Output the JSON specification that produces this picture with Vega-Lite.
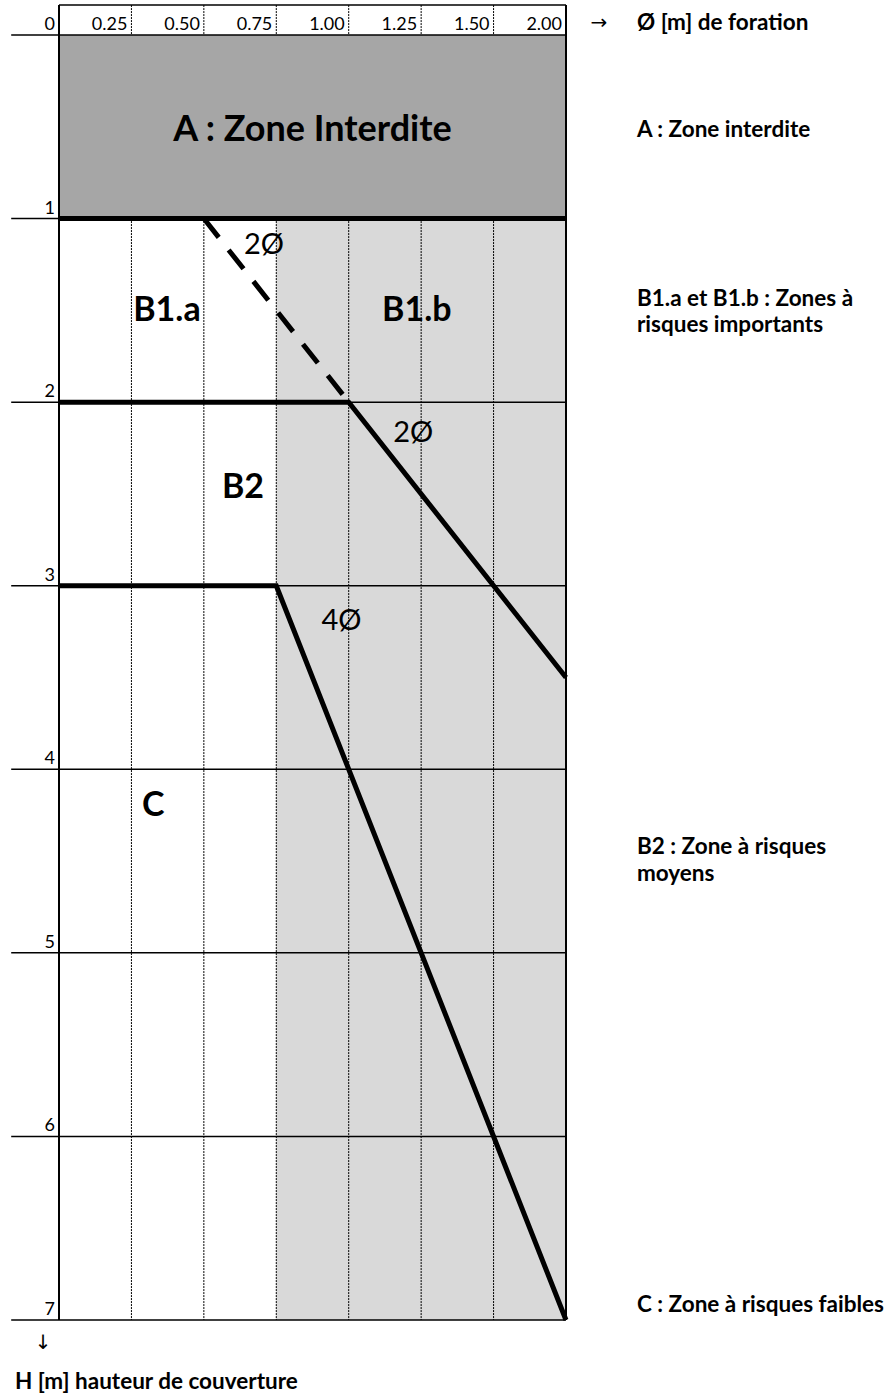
{
  "$schema": "https://vega.github.io/schema/vega-lite/v6.json",
  "width": 507,
  "height": 1285,
  "autosize": {"type": "none"},
  "padding": {"left": 59, "top": 35, "right": 322, "bottom": 75},
  "background": "white",
  "config": {"view": {"stroke": null}, "font": "Lato"},
  "datasets": {
    "zones": [
      {"zone": "grey", "i": 3, "i2": 7, "h": 1, "h2": 7},
      {"zone": "A", "i": 0, "i2": 7, "h": 0, "h2": 1}
    ],
    "grid": [
      {"kind": "dotted", "i": 1, "i2": 1, "h": -0.163, "h2": 7},
      {"kind": "dotted", "i": 2, "i2": 2, "h": -0.163, "h2": 7},
      {"kind": "dotted", "i": 3, "i2": 3, "h": -0.163, "h2": 7},
      {"kind": "dotted", "i": 4, "i2": 4, "h": -0.163, "h2": 7},
      {"kind": "dotted", "i": 5, "i2": 5, "h": -0.163, "h2": 7},
      {"kind": "dotted", "i": 6, "i2": 6, "h": -0.163, "h2": 7},
      {"kind": "thin", "i": 0, "i2": 7, "h": -0.163, "h2": -0.163},
      {"kind": "thin", "i": -0.66, "i2": 7, "h": 0, "h2": 0},
      {"kind": "thin", "i": -0.66, "i2": 7, "h": 1, "h2": 1},
      {"kind": "thin", "i": -0.66, "i2": 7, "h": 2, "h2": 2},
      {"kind": "thin", "i": -0.66, "i2": 7, "h": 3, "h2": 3},
      {"kind": "thin", "i": -0.66, "i2": 7, "h": 4, "h2": 4},
      {"kind": "thin", "i": -0.66, "i2": 7, "h": 5, "h2": 5},
      {"kind": "thin", "i": -0.66, "i2": 7, "h": 6, "h2": 6},
      {"kind": "thin", "i": -0.66, "i2": 7, "h": 7, "h2": 7},
      {"kind": "frame", "i": 0, "i2": 0, "h": -0.163, "h2": 7},
      {"kind": "frame", "i": 7, "i2": 7, "h": -0.163, "h2": 7}
    ],
    "curves": [
      {"seg": "H1", "ord": 1, "i": 0, "h": 1},
      {"seg": "H1", "ord": 2, "i": 7, "h": 1},
      {"seg": "H2", "ord": 1, "i": 0, "h": 2},
      {"seg": "H2", "ord": 2, "i": 4, "h": 2},
      {"seg": "H2", "ord": 3, "i": 7, "h": 3.5},
      {"seg": "H3", "ord": 1, "i": 0, "h": 3},
      {"seg": "H3", "ord": 2, "i": 3, "h": 3},
      {"seg": "H3", "ord": 3, "i": 7, "h": 7},
      {"seg": "D", "ord": 1, "i": 2, "h": 1},
      {"seg": "D", "ord": 2, "i": 4, "h": 2}
    ],
    "labels": [
      {"kind": "tick", "text": "0", "i": 0, "h": 0},
      {"kind": "tick", "text": "0.25", "i": 1, "h": 0},
      {"kind": "tick", "text": "0.50", "i": 2, "h": 0},
      {"kind": "tick", "text": "0.75", "i": 3, "h": 0},
      {"kind": "tick", "text": "1.00", "i": 4, "h": 0},
      {"kind": "tick", "text": "1.25", "i": 5, "h": 0},
      {"kind": "tick", "text": "1.50", "i": 6, "h": 0},
      {"kind": "tick", "text": "2.00", "i": 7, "h": 0},
      {"kind": "tick", "text": "1", "i": 0, "h": 1},
      {"kind": "tick", "text": "2", "i": 0, "h": 2},
      {"kind": "tick", "text": "3", "i": 0, "h": 3},
      {"kind": "tick", "text": "4", "i": 0, "h": 4},
      {"kind": "tick", "text": "5", "i": 0, "h": 5},
      {"kind": "tick", "text": "6", "i": 0, "h": 6},
      {"kind": "tick", "text": "7", "i": 0, "h": 7},
      {"kind": "title", "text": "A : Zone Interdite", "i": 3.5, "h": 0.518},
      {"kind": "zone", "text": "B1.a", "i": 1.49, "h": 1.503},
      {"kind": "zone", "text": "B1.b", "i": 4.94, "h": 1.503},
      {"kind": "zone", "text": "B2", "i": 2.54, "h": 2.47},
      {"kind": "zone", "text": "C", "i": 1.3, "h": 4.2},
      {"kind": "dim", "text": "2Ø", "i": 2.83, "h": 1.144},
      {"kind": "dim", "text": "2Ø", "i": 4.89, "h": 2.17},
      {"kind": "dim", "text": "4Ø", "i": 3.9, "h": 3.19},
      {"kind": "legend", "text": "Ø [m] de foration", "i": 7.98, "h": -0.065},
      {"kind": "legend", "text": "A : Zone interdite", "i": 7.98, "h": 0.518},
      {"kind": "legend", "text": "B1.a et B1.b : Zones à", "i": 7.98, "h": 1.44},
      {"kind": "legend", "text": "risques importants", "i": 7.98, "h": 1.578},
      {"kind": "legend", "text": "B2 : Zone à risques", "i": 7.98, "h": 4.423},
      {"kind": "legend", "text": "moyens", "i": 7.98, "h": 4.568},
      {"kind": "legend", "text": "C : Zone à risques faibles", "i": 7.98, "h": 6.918},
      {"kind": "legend", "text": "H [m] hauteur de couverture", "i": -0.607, "h": 7.338},
      {"kind": "arrow", "text": "→", "i": 7.455, "h": -0.065},
      {"kind": "arrow", "text": "↓", "i": -0.22, "h": 7.125}
    ]
  },
  "encoding": {
    "x": {"field": "i", "type": "quantitative", "scale": {"domain": [0, 7], "nice": false, "zero": false}, "axis": null},
    "y": {"field": "h", "type": "quantitative", "scale": {"domain": [0, 7], "reverse": true, "nice": false, "zero": false}, "axis": null}
  },
  "layer": [
    {
      "data": {"name": "zones"},
      "transform": [{"filter": "datum.zone === 'grey'"}],
      "mark": {"type": "rect", "fill": "#d9d9d9"},
      "encoding": {"x2": {"field": "i2"}, "y2": {"field": "h2"}}
    },
    {
      "data": {"name": "grid"},
      "transform": [{"filter": "datum.kind === 'dotted'"}],
      "mark": {"type": "rule", "stroke": "#000000", "strokeWidth": 1, "strokeDash": [2, 1]},
      "encoding": {"x2": {"field": "i2"}, "y2": {"field": "h2"}}
    },
    {
      "data": {"name": "zones"},
      "transform": [{"filter": "datum.zone === 'A'"}],
      "mark": {"type": "rect", "fill": "#a6a6a6"},
      "encoding": {"x2": {"field": "i2"}, "y2": {"field": "h2"}}
    },
    {
      "data": {"name": "grid"},
      "transform": [{"filter": "datum.kind === 'thin'"}],
      "mark": {"type": "rule", "stroke": "#000000", "strokeWidth": 1.5},
      "encoding": {"x2": {"field": "i2"}, "y2": {"field": "h2"}}
    },
    {
      "data": {"name": "grid"},
      "transform": [{"filter": "datum.kind === 'frame'"}],
      "mark": {"type": "rule", "stroke": "#000000", "strokeWidth": 2},
      "encoding": {"x2": {"field": "i2"}, "y2": {"field": "h2"}}
    },
    {
      "data": {"name": "curves"},
      "transform": [{"filter": "datum.seg !== 'D'"}],
      "mark": {"type": "line", "stroke": "#000000", "strokeWidth": 5, "strokeJoin": "miter", "strokeCap": "butt"},
      "encoding": {"detail": {"field": "seg"}, "order": {"field": "ord"}}
    },
    {
      "data": {"name": "curves"},
      "transform": [{"filter": "datum.seg === 'D'"}],
      "mark": {"type": "line", "stroke": "#000000", "strokeWidth": 5, "strokeDash": [24, 16], "strokeCap": "butt"},
      "encoding": {"detail": {"field": "seg"}, "order": {"field": "ord"}}
    },
    {
      "data": {"name": "labels"},
      "transform": [{"filter": "datum.kind === 'tick'"}],
      "mark": {"type": "text", "font": "Lato", "fontSize": 18, "align": "right", "baseline": "alphabetic", "dx": -4, "dy": -5, "color": "#000000"},
      "encoding": {"text": {"field": "text"}}
    },
    {
      "data": {"name": "labels"},
      "transform": [{"filter": "datum.kind === 'title'"}],
      "mark": {"type": "text", "font": "Lato", "fontSize": 36, "fontWeight": "bold", "align": "center", "baseline": "middle", "color": "#000000"},
      "encoding": {"text": {"field": "text"}}
    },
    {
      "data": {"name": "labels"},
      "transform": [{"filter": "datum.kind === 'zone'"}],
      "mark": {"type": "text", "font": "Lato", "fontSize": 34, "fontWeight": "bold", "align": "center", "baseline": "middle", "color": "#000000"},
      "encoding": {"text": {"field": "text"}}
    },
    {
      "data": {"name": "labels"},
      "transform": [{"filter": "datum.kind === 'dim'"}],
      "mark": {"type": "text", "font": "Lato", "fontSize": 29, "align": "center", "baseline": "middle", "color": "#000000"},
      "encoding": {"text": {"field": "text"}}
    },
    {
      "data": {"name": "labels"},
      "transform": [{"filter": "datum.kind === 'legend'"}],
      "mark": {"type": "text", "font": "Lato", "fontSize": 22.5, "fontWeight": "bold", "align": "left", "baseline": "middle", "color": "#000000"},
      "encoding": {"text": {"field": "text"}}
    },
    {
      "data": {"name": "labels"},
      "transform": [{"filter": "datum.kind === 'arrow'"}],
      "mark": {"type": "text", "font": "DejaVu Sans", "fontSize": 20, "align": "center", "baseline": "middle", "color": "#000000"},
      "encoding": {"text": {"field": "text"}}
    }
  ]
}
